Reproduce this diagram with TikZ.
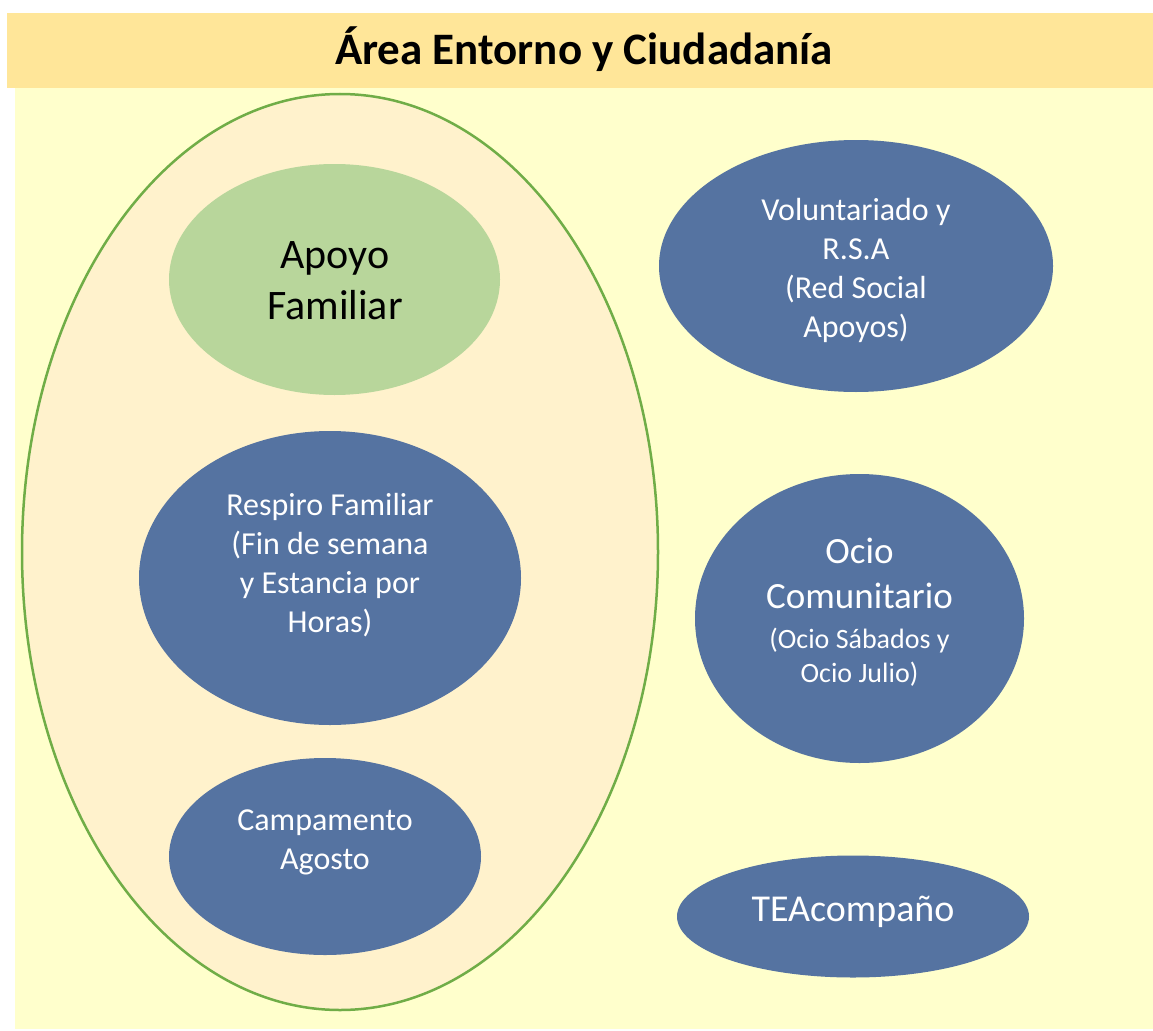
\documentclass[tikz,border=0pt]{standalone}
\usepackage{fontspec}
\setmainfont{Carlito}
\usetikzlibrary{shapes.geometric}
\usetikzlibrary{positioning}

\definecolor{titlebar}{HTML}{FFE699}
\definecolor{areabg}{HTML}{FFFFCC}
\definecolor{familybg}{HTML}{FFF2CC}
\definecolor{familyline}{HTML}{70AD47}
\definecolor{apoyogreen}{HTML}{B8D69B}
\definecolor{blueball}{HTML}{5573A1}

\begin{document}
\begin{tikzpicture}[x=1pt,y=-1pt,
    area ball/.style={ellipse,inner sep=0pt,draw=none},
    blue ball/.style={area ball,fill=blueball},
    ball text/.style={align=center,text=white,inner sep=0pt,font=\fontsize{32}{39}\selectfont}]
  \useasboundingbox[fill=white] (0,0) rectangle (1153,1030);
  % title and background
  \fill[areabg] (15,88) rectangle (1153,1029);
  \fill[titlebar] (7,13) rectangle (1153,88);
  \node[anchor=base,inner sep=0pt,font=\fontsize{45}{54}\selectfont\bfseries] (title) at (584,65) {Área Entorno y Ciudadanía};

  % family group
  \node[area ball,fill=familybg,draw=familyline,line width=2.5pt,minimum width=636pt,minimum height=916pt] (family) at (340,552) {};
  \node[area ball,fill=apoyogreen,minimum width=331pt,minimum height=231pt] (apoyo) at (334.5,279.5) {};
  \node[blue ball,minimum width=382pt,minimum height=294pt] (respiro) at (330,578) {};
  \node[blue ball,minimum width=312pt,minimum height=197pt] (campa) at (325,856.5) {};

  % right column
  \node[blue ball,minimum width=394pt,minimum height=252pt] (volunt) at (856,266) {};
  \node[blue ball,minimum width=329pt,minimum height=289pt] (ocio) at (859.5,618.5) {};
  \node[blue ball,minimum width=352pt,minimum height=122pt] (teacomp) at (853,916.5) {};

  % texts
  \node[ball text,text=black,font=\fontsize{42}{51}\selectfont] (apoyo-t) at (335,281) {Apoyo\\Familiar};
  \node[ball text] (respiro-t) at (330,565) {Respiro Familiar\\(Fin de semana\\y Estancia por\\Horas)};
  \node[ball text] (campa-t) at (325,842) {Campamento\\Agosto};
  \node[ball text] (volunt-t) at (856,270) {Voluntariado y\\R.S.A\\(Red Social\\Apoyos)};
  \node[ball text,font=\fontsize{37}{45}\selectfont] (ocio-t) at (859.5,612.5) {Ocio\\Comunitario\\[-5pt]{\fontsize{28}{34}\selectfont(Ocio Sábados y}\\[-11pt]{\fontsize{28}{34}\selectfont Ocio Julio)}};
  \node[ball text,font=\fontsize{38}{46}\selectfont] (teacomp-t) at (853,911.5) {TEAcompaño};
\end{tikzpicture}
\end{document}
